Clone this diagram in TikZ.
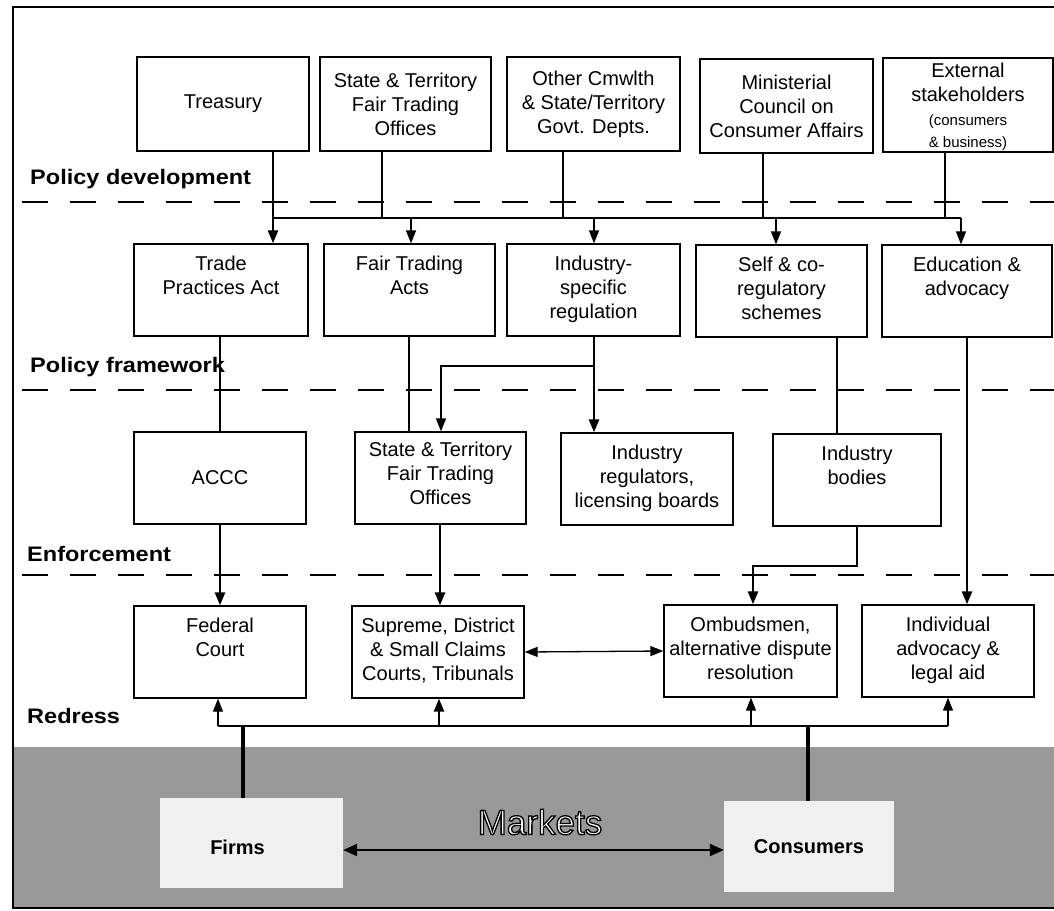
\documentclass[tikz,border=0pt]{standalone}
\usepackage{fontspec}
\setmainfont{Liberation Sans}
\newfontfamily\lvlfont[FakeStretch=1.12]{Liberation Sans}
\usetikzlibrary{arrows.meta,calc}
\newcommand{\outlinedtext}[1]{\special{pdf:literal direct 2 Tr 1.3 w 0 G}#1\special{pdf:literal direct 0 Tr}}
\begin{document}
\begin{tikzpicture}[x=1pt,y=-1pt,
  box/.style={draw,line width=1.3pt,inner sep=0pt,align=center,font=\fontsize{20}{24}\selectfont},
  tl/.style={anchor=north,inner sep=0pt,align=center,font=\fontsize{20}{24}\selectfont,yshift=-12pt},
  lvl/.style={anchor=base west,inner sep=0pt,font=\fontsize{21}{25}\lvlfont\bfseries},
  conn/.style={line width=1.3pt},
  heavy/.style={line width=2.6pt},
  vheavy/.style={line width=4pt},
  arr/.style={-{Triangle[width=10pt,length=13pt]}},
  dline/.style={line width=1.3pt,dash pattern=on 26pt off 22pt},
  mbox/.style={fill=gray!12,inner sep=0pt,font=\fontsize{20}{24}\selectfont\bfseries},
]
\useasboundingbox (0,0) rectangle (1054,910);
% markets background
\fill[black!40] (12,747) rectangle (1060,907);
% frame
\draw[line width=1.6pt] (1060,7) -- (13,7) -- (13,908) -- (1060,908);
% dashed separators
\draw[dline] (22,202) -- (1060,202);
\draw[dline] (22,390) -- (1060,390);
\draw[dline] (22,575) -- (1060,575);
% level labels
\node[lvl] (lpd) at (30,184) {Policy development};
\node[lvl] (lpf) at (30,372) {Policy framework};
\node[lvl] (len) at (27,561) {Enforcement};
\node[lvl] (lre) at (27,723) {Redress};

% row 1
\node[box,minimum width=172pt,minimum height=94pt] (treas) at (223,104) {Treasury};
\node[box,minimum width=171pt,minimum height=94pt] (stft1) at (405.5,104) {State \& Territory\\Fair Trading\\Offices};
\node[box,minimum width=173pt,minimum height=94pt] (other) at (593.5,104) {Other Cmwlth\\\& State/Territory\\Govt. Depts.};
\node[box,minimum width=173pt,minimum height=94pt] (minist) at (786.5,106) {Ministerial\\Council on\\Consumer Affairs};
\node[box,minimum width=170pt,minimum height=94pt] (ext) at (968,105) {};
\node[anchor=north,inner sep=0pt,align=center,font=\fontsize{20}{24}\selectfont] (ext-t) at ([yshift=-5pt]ext.north) {External\\stakeholders\\{\fontsize{15}{18}\selectfont (consumers}\\[-2pt]{\fontsize{15}{18}\selectfont \& business)}};

% row 2
\node[box,minimum width=174pt,minimum height=92pt] (tpa) at (221,290) {};
\node[tl] (tpa-t) at (tpa.north) {Trade\\Practices Act};
\node[box,minimum width=171pt,minimum height=92pt] (fta) at (409.5,290) {};
\node[tl] (fta-t) at (fta.north) {Fair Trading\\Acts};
\node[box,minimum width=173pt,minimum height=92pt] (iss) at (593.5,290) {};
\node[tl] (iss-t) at (iss.north) {Industry-\\specific\\regulation};
\node[box,minimum width=171pt,minimum height=92pt] (self) at (781.5,291) {};
\node[tl] (self-t) at (self.north) {Self \& co-\\regulatory\\schemes};
\node[box,minimum width=170pt,minimum height=92pt] (edu) at (967,291) {};
\node[tl] (edu-t) at (edu.north) {Education \&\\advocacy};

% row 3
\node[box,minimum width=172pt,minimum height=92pt] (accc) at (220,478) {ACCC};
\node[box,minimum width=171pt,minimum height=92pt] (stft2) at (440.5,478) {};
\node[tl,yshift=2pt] (stft2-t) at (stft2.north) {State \& Territory\\Fair Trading\\Offices};
\node[box,minimum width=172pt,minimum height=92pt] (ireg) at (647,479) {};
\node[tl] (ireg-t) at (ireg.north) {Industry\\regulators,\\licensing boards};
\node[box,minimum width=168pt,minimum height=92pt] (ibod) at (857,480) {};
\node[tl] (ibod-t) at (ibod.north) {Industry\\bodies};

% row 4
\node[box,minimum width=172pt,minimum height=92pt] (fed) at (220,652) {};
\node[tl] (fed-t) at (fed.north) {Federal\\Court};
\node[box,minimum width=172pt,minimum height=92pt] (sup) at (438,652) {};
\node[tl] (sup-t) at (sup.north) {Supreme, District\\\& Small Claims\\Courts, Tribunals};
\node[box,minimum width=173pt,minimum height=92pt] (omb) at (750.5,651) {};
\node[tl] (omb-t) at (omb.north) {Ombudsmen,\\alternative dispute\\resolution};
\node[box,minimum width=172pt,minimum height=92pt] (ind) at (948,651) {};
\node[tl] (ind-t) at (ind.north) {Individual\\advocacy \&\\legal aid};

% markets
\node[mbox,minimum width=183pt,minimum height=90pt] (firms) at (251.5,843) {};
\node[anchor=center,inner sep=0pt,font=\fontsize{20}{24}\selectfont\bfseries] (firms-t) at ($(firms.center)+(-14,4)$) {Firms};
\node[mbox,minimum width=170pt,minimum height=91pt] (cons) at (809,846.5) {Consumers};
\node[inner sep=0pt,text=white,font=\fontsize{35}{40}\selectfont] (mkt) at (540,822) {\outlinedtext{Markets}};

% ---- connectors: policy development
\coordinate (busL) at (273,218);
\coordinate (busR) at (961,218);
\coordinate (c1) at (382,218);
\coordinate (c2) at (563,218);
\coordinate (c3) at (763,218);
\coordinate (c4) at (945,218);
\coordinate (d2) at (411,218);
\coordinate (d3) at (594,218);
\coordinate (d4) at (776,218);
\draw[conn] (busL) -- (busR);
\draw[heavy,arr] (treas.south -| busL) -- (tpa.north -| busL);
\draw[conn] (stft1.south -| c1) -- (c1);
\draw[conn] (other.south -| c2) -- (c2);
\draw[conn] (minist.south -| c3) -- (c3);
\draw[conn] (ext.south -| c4) -- (c4);
\draw[conn,arr] (d2) -- (fta.north -| d2);
\draw[conn,arr] (d3) -- (iss.north -| d3);
\draw[conn,arr] (d4) -- (self.north -| d4);
\draw[conn,arr] (busR) -- (edu.north -| busR);

% ---- policy framework -> enforcement
\coordinate (br) at (594,366);
\coordinate (s2in) at (441,366);
\coordinate (sb) at (837,366);
\coordinate (ed) at (967,366);
\coordinate (fx) at (409,366);
\draw[conn] (tpa.south -| accc) -- (accc.north);
\draw[conn] (fta.south -| fx) -- (stft2.north -| fx);
\draw[heavy,arr] (iss.south -| br) -- (ireg.north -| br);
\draw[conn,arr] (br) -- (s2in) -- (stft2.north -| s2in);
\draw[conn] (self.south -| sb) -- (ibod.north -| sb);
\draw[heavy,arr] (edu.south -| ed) -- (ind.north -| ed);

% ---- enforcement -> redress
\coordinate (ib) at (753,566);
\coordinate (sx) at (440,566);
\draw[heavy,arr] (accc.south) -- (fed.north);
\draw[heavy,arr] (stft2.south -| sx) -- (sup.north -| sx);
\draw[heavy,arr] (ibod.south) |- (ib) -- (omb.north -| ib);
\draw[conn,{Triangle[width=10pt,length=13pt]}-{Triangle[width=10pt,length=13pt]}] (sup.east) -- (omb.west);

% ---- redress bus from markets
\coordinate (bL) at (218,726);
\coordinate (b2) at (439,726);
\coordinate (b3) at (751,726);
\coordinate (bR) at (948,726);
\coordinate (bf) at (243,726);
\coordinate (bc) at (808,726);
\draw[conn] (bL) -- (bR);
\draw[conn,arr] (bL) -- (fed.south -| bL);
\draw[heavy,arr] (b2) -- (sup.south -| b2);
\draw[conn,arr] (b3) -- (omb.south -| b3);
\draw[conn,arr] (bR) -- (ind.south -| bR);
\draw[vheavy] (firms.north -| bf) -- (bf);
\draw[vheavy] (cons.north -| bc) -- (bc);
\coordinate (mk) at (0,850);
\draw[line width=2.2pt,{Triangle[width=12pt,length=14pt]}-{Triangle[width=12pt,length=14pt]}] (firms.east |- mk) -- (cons.west |- mk);
\end{tikzpicture}
\end{document}
